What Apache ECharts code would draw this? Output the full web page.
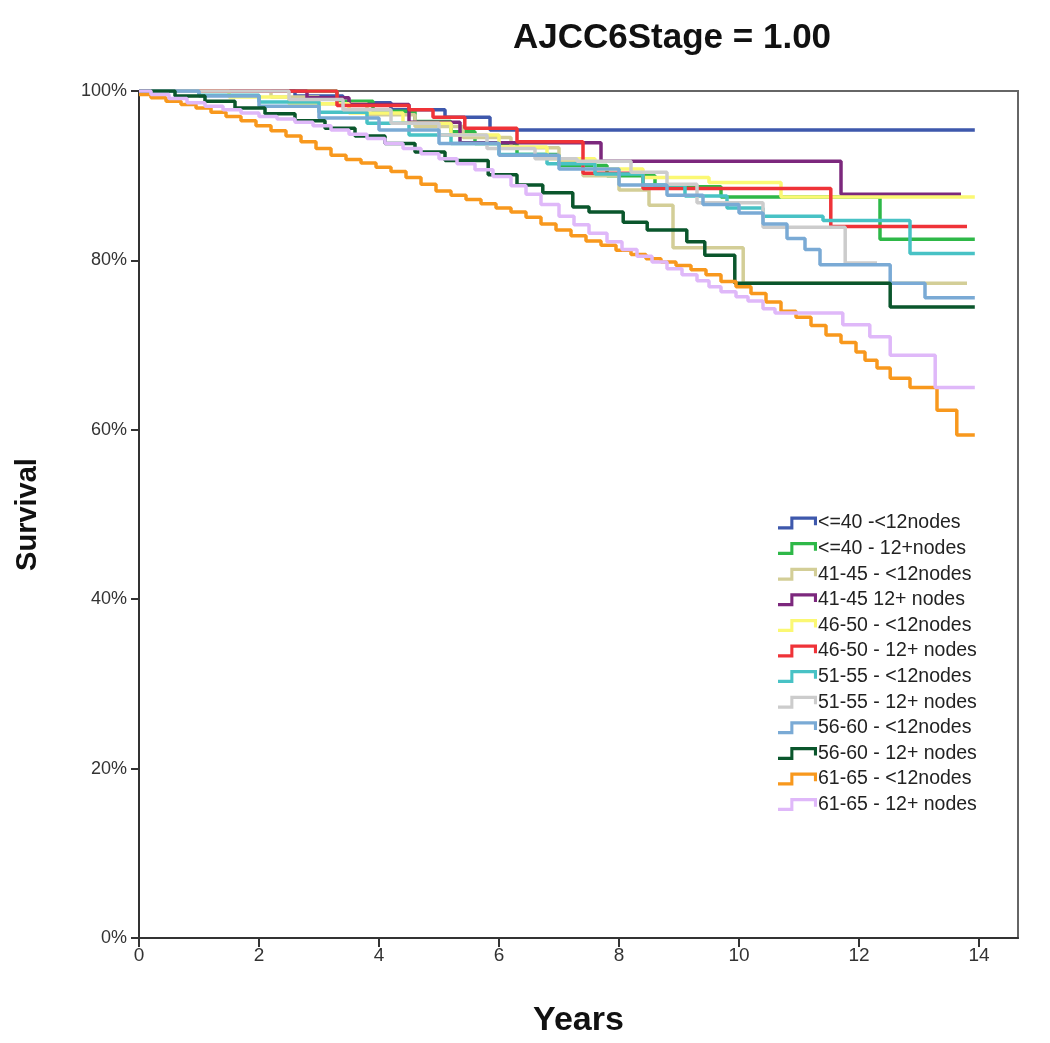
<!DOCTYPE html>
<html>
<head>
<meta charset="utf-8">
<script src="https://cdn.jsdelivr.net/npm/echarts@6/dist/echarts.min.js"></script>
<style>
html,body{margin:0;padding:0;background:#fff;}
#chart{width:1050px;height:1043px;}
</style>
</head>
<body>
<div id="chart"></div>
<script>
// ---- Data (years, survival %) ----
const seriesNames = [
  "<=40 -<12nodes", "<=40 - 12+nodes", "41-45 - <12nodes", "41-45 12+ nodes",
  "46-50 - <12nodes", "46-50 - 12+ nodes", "51-55 - <12nodes", "51-55 - 12+ nodes",
  "56-60 - <12nodes", "56-60 - 12+ nodes", "61-65 - <12nodes", "61-65 - 12+ nodes"
];
const seriesColors = ["#3e58ac","#2eb848","#d3ce97","#7c287d","#fbf873","#ef3338",
  "#48c2c5","#cccccc","#7aaad5","#0a562c","#f8981d","#dfb8f9"];

const le40_lt12 = [[0,100],[2.6,99.4],[3.4,98.6],[4.2,97.8],[5.1,96.9],[5.85,95.4],[13.93,95.4]];
const le40_ge12 = [[0,100],[3.3,98.8],[3.9,97.6],[4.6,96.4],[5.2,95.2],[5.6,93.8],[6.3,92.5],[7.0,91.2],[7.8,90],[8.6,88.7],[9.7,87.5],[12.35,82.5],[13.93,82.5]];
const a41_lt12 = [[0,100],[2.2,99.3],[3.0,98.5],[3.8,97.2],[4.6,95.8],[5.4,94.5],[6.2,93.3],[7.0,91.8],[7.4,90],[8.0,88.3],[8.5,86.5],[8.9,81.5],[10.07,77.3],[13.8,77.3]];
const a41_ge12 = [[0,100],[2.8,99.2],[3.5,98.4],[4.5,96.3],[5.35,93.9],[7.7,91.7],[11.7,87.8],[13.7,87.8]];
const a46_lt12 = [[0,100],[1.5,99.3],[2.5,98.5],[3.5,97.4],[4.4,96.2],[5.2,94.8],[6.0,93.4],[6.8,92],[7.6,90.8],[8.4,89.8],[9.5,89.2],[10.7,87.5],[13.93,87.5]];
const a46_ge12 = [[0,100],[3.3,98.3],[4.5,97.8],[4.9,96.9],[5.43,95.6],[6.3,94],[7.4,90.3],[8.4,88.5],[11.53,84],[13.8,84]];
const a51_lt12 = [[0,100],[1,99.5],[2,98.7],[3,97.5],[3.8,96.2],[4.5,94.8],[5.2,93.8],[6,92.5],[6.8,91.4],[7.6,90.2],[8.4,88.9],[9.1,87.6],[9.8,86.2],[10.4,85.2],[11.4,84.7],[12.85,80.8],[13.93,80.8]];
const a51_ge12 = [[0,100],[2.5,99],[3.4,97.8],[4.2,96.2],[5,94.8],[5.8,93.2],[6.6,92],[7.3,91.7],[8.2,90.4],[8.8,89],[9.3,86.8],[10.4,83.9],[11.77,79.7],[12.3,79.7]];
const a56_lt12 = [[0,100],[1,99.4],[2,98.2],[3,96.8],[4,95.4],[5,93.8],[6,92.4],[7,90.8],[8,88.9],[8.8,87.7],[9.4,86.6],[10,85.6],[10.4,84.3],[10.8,82.6],[11.1,81.3],[11.35,79.5],[12.52,77.3],[13.1,75.6],[13.93,75.6]];
const a56_ge12 = [[0,100],[0.6,99.4],[1.1,98.8],[1.6,98],[2.1,97.3],[2.6,96.5],[3.1,95.6],[3.6,94.7],[4.1,93.8],[4.6,92.8],[5.1,91.8],[5.82,90.1],[6.3,88.9],[6.73,88],[7.23,86.3],[7.5,85.7],[8.07,84.5],[8.47,83.6],[9.13,82.2],[9.43,80.6],[9.93,77.3],[12.52,74.5],[13.93,74.5]];
const a61_lt12 = [[0,99.6],[0.2,99.2],[0.45,98.8],[0.7,98.4],[0.95,98.0],[1.2,97.5],[1.45,97.0],[1.7,96.5],[1.95,95.9],[2.2,95.3],[2.45,94.7],[2.7,94.0],[2.95,93.2],[3.2,92.4],[3.45,91.9],[3.7,91.5],[3.95,91.0],[4.2,90.5],[4.45,89.8],[4.7,89.0],[4.95,88.2],[5.2,87.7],[5.45,87.2],[5.7,86.7],[5.95,86.2],[6.2,85.7],[6.45,85.1],[6.7,84.3],[6.95,83.6],[7.2,82.9],[7.45,82.3],[7.7,81.8],[7.95,81.2],[8.2,80.7],[8.45,80.2],[8.7,79.8],[8.95,79.4],[9.2,78.9],[9.45,78.3],[9.7,77.5],[9.95,76.9],[10.2,76.1],[10.45,75.1],[10.7,74.0],[10.95,73.3],[11.2,72.3],[11.45,71.2],[11.7,70.3],[11.95,69.2],[12.1,68.2],[12.3,67.3],[12.52,66.1],[12.85,65.0],[13.3,62.3],[13.63,59.4],[13.93,59.4]];
const a61_ge12 = [[0,100],[0.2,99.6],[0.5,99.1],[0.8,98.6],[1.1,98.2],[1.4,97.8],[1.7,97.4],[2.0,97.0],[2.3,96.7],[2.6,96.3],[2.9,95.9],[3.2,95.4],[3.5,94.9],[3.8,94.4],[4.1,93.8],[4.4,93.2],[4.7,92.6],[5.0,92.0],[5.3,91.4],[5.6,90.7],[5.9,89.9],[6.2,88.8],[6.45,87.8],[6.7,86.6],[7.0,85.2],[7.25,84.2],[7.5,83.2],[7.8,82.2],[8.05,81.3],[8.3,80.5],[8.55,79.8],[8.8,79],[9.05,78.3],[9.3,77.6],[9.5,76.9],[9.7,76.3],[9.95,75.7],[10.15,75.2],[10.4,74.3],[10.6,73.8],[11.73,72.4],[12.18,71],[12.52,68.8],[13.27,65],[13.93,65]];

const allData = [le40_lt12, le40_ge12, a41_lt12, a41_ge12, a46_lt12, a46_ge12,
  a51_lt12, a51_ge12, a56_lt12, a56_ge12, a61_lt12, a61_ge12];

const xTicks = [0, 2, 4, 6, 8, 10, 12, 14];
const yTicks = [0, 20, 40, 60, 80, 100];

// ---- Chart ----
const chart = echarts.init(document.getElementById('chart'));
const stepIcon = 'path://M0,9 L12,9 L12,0 L38,0 L38,8 L35,8 L35,3 L15,3 L15,12 L0,12 Z';
const FONT = '"Liberation Sans", Arial, sans-serif';

const option = {
  animation: false,
  backgroundColor: '#fff',
  graphic: [{
    type: 'text', left: 513, top: 21,
    style: { text: 'AJCC6Stage = 1.00', font: 'bold 35px ' + FONT, fill: '#111' }
  }],
  grid: { left: 139, right: 32, top: 91, bottom: 105, show: true, borderColor: '#666', borderWidth: 2,
    containLabel: false, outerBoundsMode: 'none' },
  legend: {
    orient: 'vertical', left: 773, top: 508, itemWidth: 39, itemHeight: 13, itemGap: 5.6,
    symbolKeepAspect: false,
    textStyle: { fontSize: 19.5, lineHeight: 20, color: '#222', fontFamily: FONT, padding: [0,0,0,-4] },
    data: seriesNames.map(n => ({ name: n, icon: stepIcon }))
  },
  xAxis: {
    type: 'value', min: 0, max: 14.65, interval: 2,
    name: 'Years', nameLocation: 'middle', nameGap: 66,
    nameTextStyle: { fontSize: 34, fontWeight: 'bold', color: '#111', fontFamily: FONT },
    axisLine: { show: true, lineStyle: { color: '#333', width: 2 } },
    axisTick: { show: true, length: 9, lineStyle: { color: '#333', width: 2 } },
    axisLabel: { fontSize: 19, color: '#333', fontFamily: FONT, margin: 8, showMaxLabel: false,
      formatter: v => xTicks.includes(v) ? String(v) : '' },
    splitLine: { show: false }
  },
  yAxis: {
    type: 'value', min: 0, max: 100, interval: 20,
    name: 'Survival', nameLocation: 'middle', nameGap: 97,
    nameTextStyle: { fontSize: 29, fontWeight: 'bold', color: '#111', fontFamily: FONT },
    axisLine: { show: true, lineStyle: { color: '#333', width: 2 } },
    axisTick: { show: true, length: 8, lineStyle: { color: '#333', width: 2 } },
    axisLabel: { fontSize: 18, color: '#333', fontFamily: FONT, margin: 12,
      formatter: v => yTicks.includes(v) ? v + '%' : '' },
    splitLine: { show: false }
  },
  series: allData.map((d, i) => ({
    name: seriesNames[i], type: 'line', step: 'end', data: d,
    showSymbol: false, symbol: 'none',
    lineStyle: { color: seriesColors[i], width: 3.5 },
    itemStyle: { color: seriesColors[i] },
    z: 2 + i
  }))
};
chart.setOption(option);
</script>
</body>
</html>
